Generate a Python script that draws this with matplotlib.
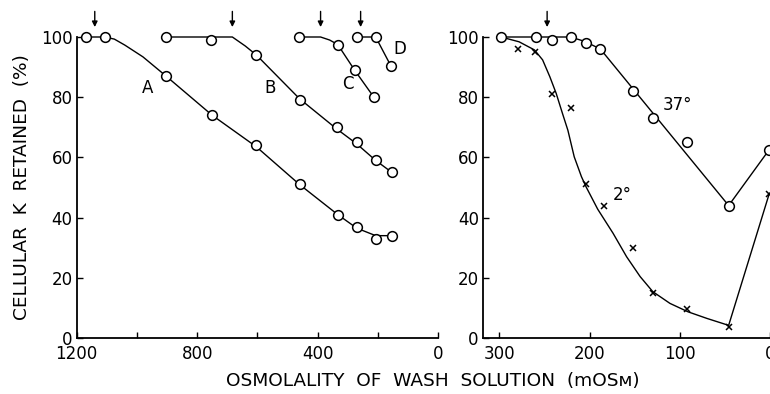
"""Cellular K retained vs osmolality of wash solution (two panels)."""
import matplotlib
matplotlib.use("Agg")
import matplotlib.pyplot as plt

# ---- left panel: curves A-D (open circles) ----
a_x = [1170, 1107, 903, 750, 603, 460, 333, 270, 207, 153]
a_y = [100, 100, 87, 74, 64, 51, 41, 37, 33, 34]
a_fit_x = [1170, 1107, 1075, 1040, 980, 903, 750, 603, 460, 333, 270, 207, 153]
a_fit_y = [100, 100, 99.3, 97.3, 93.4, 87, 74, 63.5, 51, 41, 36.5, 34, 34]

b_x = [903, 753, 603, 460, 337, 270, 207, 153]
b_y = [100, 99, 94, 79, 70, 65, 59, 55]
b_fit_x = [903, 683, 640, 603, 460, 337, 270, 207, 153]
b_fit_y = [100, 100, 97, 94, 79.5, 69.5, 64.5, 59, 55]

c_x = [463, 333, 277, 213]
c_y = [100, 97.5, 89, 80]
c_fit_x = [463, 390, 360, 333, 277, 213]
c_fit_y = [100, 100, 99, 97.5, 89, 80]

d_x = [270, 207, 157]
d_y = [100, 100, 90.5]

left_arrows = [1140, 683, 390, 257]
left_labels = [("A", 963, 83), ("B", 557, 83), ("C", 300, 84.5), ("D", 127, 96)]

# ---- right panel: 37 deg (circles) and 2 deg (crosses) ----
warm_x = [298, 259, 242, 221, 204, 188, 152, 130, 92, 46, 1]
warm_y = [100, 100, 99, 100, 98, 96, 82, 73, 65, 44, 62.6]
warm_fit_x = [298, 221, 205, 188, 46, 1]
warm_fit_y = [100, 100, 98.5, 96, 44, 62.6]

cold_x = [279, 260, 242, 221, 204, 184, 152, 130, 92, 46, 1]
cold_y = [96, 95, 81, 76.5, 51, 44, 30, 15, 9.5, 3.7, 48]
cold_fit_x = [298, 278, 261, 252, 244, 237, 230, 224, 217, 209, 204, 191,
              174, 159, 144, 130, 111, 91, 70, 46, 1]
cold_fit_y = [100, 98.4, 95.7, 92.4, 86.8, 81.3, 74.6, 69, 60.2, 53.6, 50.3, 42.8,
              34.8, 27, 20.4, 15.4, 11.5, 8.7, 6.5, 4.2, 48]

right_arrows = [247]
right_labels = [("37°", 119, 77.4), ("2°", 174, 47.5)]

LW = 1.0
FS = 12
LABEL_FS = 13.3

fig = plt.figure(figsize=(7.7, 3.94), dpi=100)
W, H = 770, 394
y0, y100 = 338, 37
bottom = (H - y0) / H
height = (y0 - y100) / H
ax1 = fig.add_axes([76.7 / W, bottom, (438 - 76.7) / W, height])
ax2 = fig.add_axes([483 / W, bottom, (800 - 483) / W, height])


def circles(ax, x, y):
    ax.plot(x, y, "o", ms=7, mfc="white", mec="black", mew=1.1,
            clip_on=False, zorder=3)


def arrow(ax, x):
    ax.annotate("", xy=(x, 103.3), xytext=(x, 108.5),
                arrowprops=dict(arrowstyle="-|>", color="black", lw=1.0,
                                mutation_scale=8, shrinkA=0, shrinkB=0),
                annotation_clip=False)


for fx, fy in [(a_fit_x, a_fit_y), (b_fit_x, b_fit_y), (c_fit_x, c_fit_y), (d_x, d_y)]:
    ax1.plot(fx, fy, color="black", lw=LW, clip_on=False)
for px, py in [(a_x, a_y), (b_x, b_y), (c_x, c_y), (d_x, d_y)]:
    circles(ax1, px, py)
for x in left_arrows:
    arrow(ax1, x)
for s, x, y in left_labels:
    ax1.text(x, y, s, fontsize=FS, ha="center", va="center")

ax2.plot(warm_fit_x, warm_fit_y, color="black", lw=LW, clip_on=False)
ax2.plot(cold_fit_x, cold_fit_y, color="black", lw=LW, clip_on=False)
circles(ax2, warm_x, warm_y)
ax2.plot(cold_x, cold_y, "x", ms=5, color="black", mew=1.1, clip_on=False, zorder=3)
for x in right_arrows:
    arrow(ax2, x)
for s, x, y in right_labels:
    ax2.text(x, y, s, fontsize=FS, ha="left", va="center")

ax1.set_xlim(1200, 0)
ax1.set_xticks([1200, 1000, 800, 600, 400, 200, 0])
ax1.set_xticklabels(["1200", "", "800", "", "400", "", "0"])
ax2.set_xlim(318, -33)
ax2.set_xticks([300, 200, 100, 0])

for ax in (ax1, ax2):
    ax.set_ylim(0, 100)
    ax.set_yticks([0, 20, 40, 60, 80, 100])
    ax.spines["top"].set_visible(False)
    ax.spines["right"].set_visible(False)
    ax.spines["left"].set_bounds(0, 100)
    for s in ("left", "bottom"):
        ax.spines[s].set_linewidth(1.3)
    ax.tick_params(direction="in", length=4, width=1.0, labelsize=FS, pad=3)
    ax.tick_params(axis="x", pad=5)

ax1.set_ylabel("CELLULAR  K  RETAINED  (%)", fontsize=LABEL_FS, labelpad=7)
fig.text(433 / W, 1 - 381 / H, "OSMOLALITY  OF  WASH  SOLUTION  (mOSᴍ)",
         fontsize=LABEL_FS, ha="center", va="center")

fig.savefig("out.png", dpi=100)
